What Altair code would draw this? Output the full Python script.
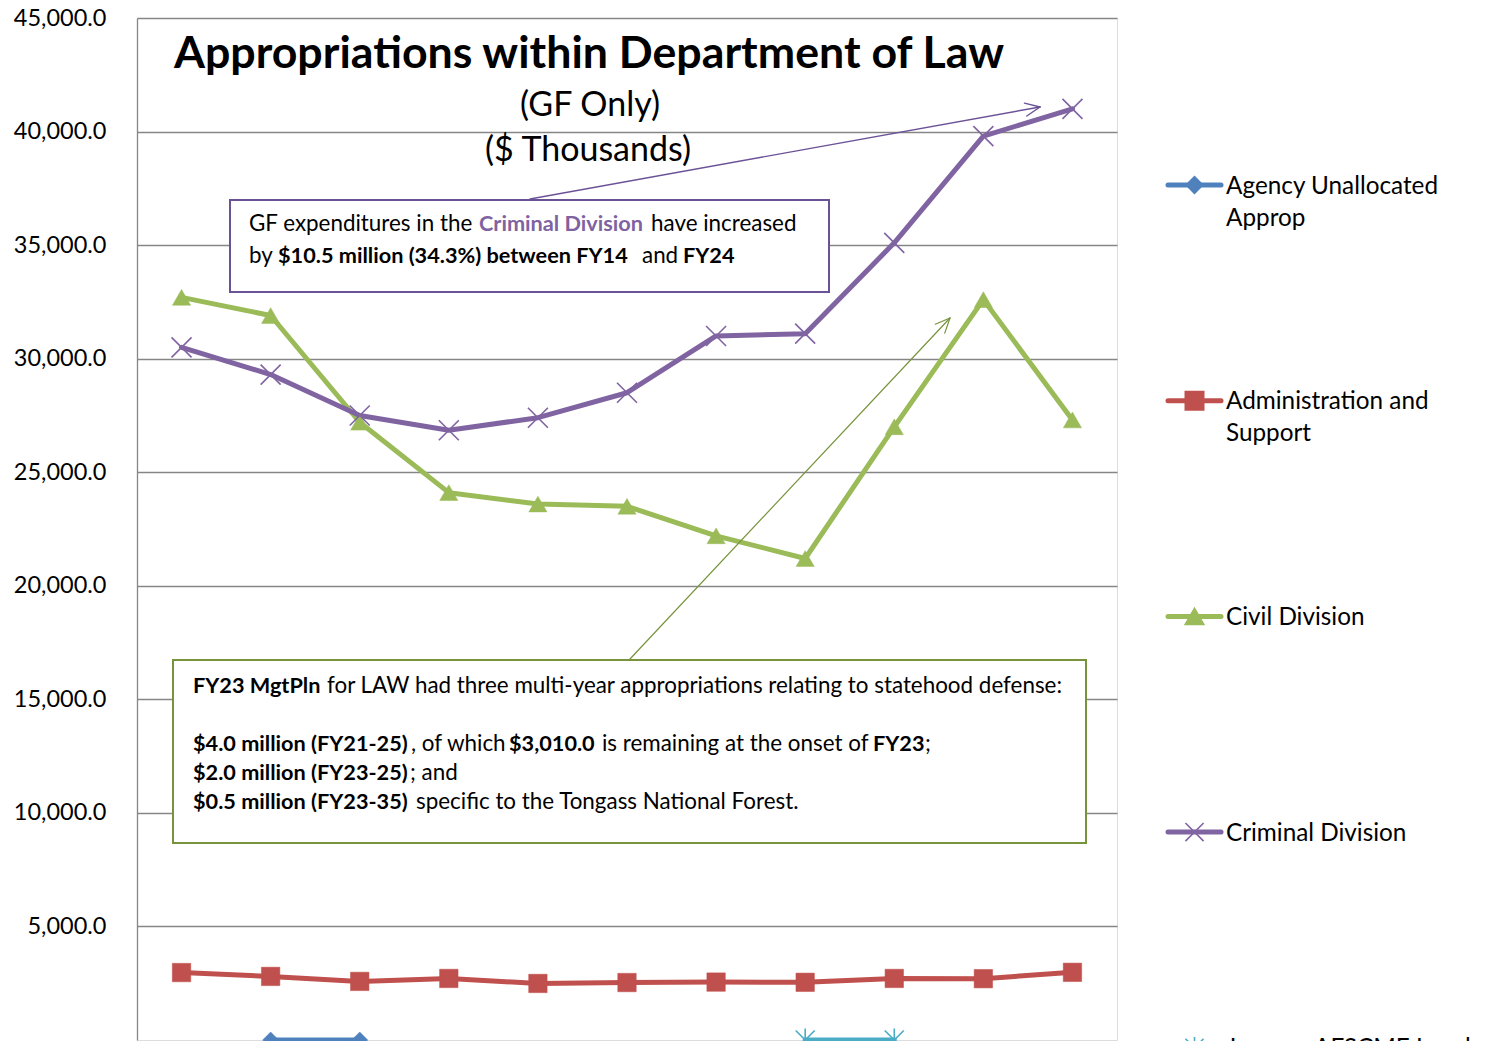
import altair as alt
import pandas as pd
import numpy as np

# ---------------- data ----------------
years = ["FY14", "FY15", "FY16", "FY17", "FY18", "FY19", "FY20", "FY21", "FY22", "FY23", "FY24"]
agency_unallocated = [None, 0.0, 0.0, None, None, None, None, None, None, None, None]
admin_support = [2970, 2800, 2580, 2710, 2490, 2530, 2550, 2540, 2710, 2700, 2980]
civil_division = [32700, 31900, 27200, 24100, 23600, 23500, 22200, 21200, 27000, 32600, 27300]
criminal_division = [30500, 29300, 27500, 26850, 27400, 28500, 31000, 31100, 35100, 39800, 41000]
janus_afscme = [None, None, None, None, None, None, None, 0.0, 0.0, None, None]

series_names = ["Agency Unallocated Approp", "Administration and Support",
                "Civil Division", "Criminal Division", "Janus v. AFSCME Local"]
legend_labels = ["Agency Unallocated\nApprop", "Administration and\nSupport",
                 "Civil Division", "Criminal Division", "Janus v. AFSCME Local"]
series_values = [agency_unallocated, admin_support, civil_division, criminal_division, janus_afscme]
colors = ["#4F81BD", "#C0504D", "#9BBB59", "#8064A2", "#4BACC6"]

X_PATH = "M-1,-1L1,1M1,-1L-1,1"
STAR_PATH = "M-1,-1L1,1M1,-1L-1,1M0,-1.2L0,1.2"
shapes = ["diamond", "square", "triangle-up", X_PATH, STAR_PATH]
sizes = [256, 340, 330, 400, 360]
filled = [True, True, True, False, False]

y_ticks = [5000, 10000, 15000, 20000, 25000, 30000, 35000, 40000, 45000]

title_text = "Appropriations within Department of Law"
subtitle1 = "(GF Only)"
subtitle2 = "($ Thousands)"

# annotation 1 segments (text, bold, color)
note1 = [
    ["GF expenditures in the", False, "#000000"],
    ["Criminal Division", True, "#7F62A1"],
    ["have increased", False, "#000000"],
    ["by", False, "#000000"],
    ["$10.5 million (34.3%) between FY14", True, "#000000"],
    ["and", False, "#000000"],
    ["FY24", True, "#000000"],
]
note2 = [
    ["FY23 MgtPln", True],
    ["for LAW had three multi-year appropriations relating to statehood defense:", False],
    ["$4.0 million (FY21-25)", True],
    [", of which", False],
    ["$3,010.0", True],
    ["is remaining at the onset of", False],
    ["FY23", True],
    [";", False],
    ["$2.0 million (FY23-25)", True],
    ["; and", False],
    ["$0.5 million (FY23-35)", True],
    ["specific to the Tongass National Forest.", False],
]

FONT = "Lato"
W, H = 980, 1022

rows = []
for name, vals in zip(series_names, series_values):
    for yr, v in zip(years, vals):
        if v is not None:
            rows.append({"year": yr, "value": v, "series": name})
df = pd.DataFrame(rows)

xenc = alt.X("year:N", sort=years, scale=alt.Scale(type="point", padding=0.5), axis=None)
yenc = alt.Y("value:Q", scale=alt.Scale(domain=[0, 45000], nice=False, zero=True),
             axis=alt.Axis(values=y_ticks, format=",.1f", labelFont=FONT, labelFontSize=23.5,
                           labelColor="#000000", labelPadding=31, tickSize=0,
                           domainColor="#868686", domainWidth=1.3, gridColor="#868686",
                           gridWidth=1.3, grid=True, title=None))
cenc = alt.Color("series:N", scale=alt.Scale(domain=series_names, range=colors), legend=None)

base = alt.Chart(df)
lines = base.mark_line(strokeWidth=5, strokeJoin="round", strokeCap="round").encode(
    x=xenc, y=yenc, color=cenc, detail="series:N")

point_layers = []
for name, shp, sz, fl, col in zip(series_names, shapes, sizes, filled, colors):
    if fl:
        mk = base.mark_point(shape=shp, size=sz, filled=True, fill=col, stroke=col,
                             strokeWidth=0.5, opacity=1)
    else:
        mk = base.mark_point(shape=shp, size=sz, filled=False, stroke=col,
                             strokeWidth=1.6, opacity=1)
    point_layers.append(mk.encode(x=xenc, y=yenc).transform_filter(
        alt.datum.series == name))

one = pd.DataFrame({"a": [0]})


def txt(text, x, y, size, weight="normal", align="center", color="#000000", baseline="alphabetic"):
    return alt.Chart(one).mark_text(text=text, font=FONT, fontSize=size, fontWeight=weight,
                                    align=align, baseline=baseline, color=color).encode(
        x=alt.value(x), y=alt.value(y))


titles = [
    txt(title_text, 452, 50, 44.7, "bold"),
    txt(subtitle1, 453, 98, 34),
    txt(subtitle2, 451, 143, 34),
]


def box(x1, x2, y1, y2, col):
    return alt.Chart(one).mark_rect(fill="white", stroke=col, strokeWidth=2).encode(
        x=alt.value(x1), x2=alt.value(x2), y=alt.value(y1), y2=alt.value(y2))


def rule(x0, y0, x1, y1, col, w):
    return alt.Chart(one).mark_rule(stroke=col, strokeWidth=w, strokeCap="round").encode(
        x=alt.value(float(x0)), y=alt.value(float(y0)), x2=alt.value(float(x1)), y2=alt.value(float(y1)))


def arrow(x0, y0, x1, y1, col, w=1.4, head=16, ang=24):
    d = np.array([x1 - x0, y1 - y0], dtype=float)
    d /= np.linalg.norm(d)
    out = [rule(x0, y0, x1, y1, col, w)]
    for s in (1, -1):
        a = np.deg2rad(ang * s)
        r = np.array([d[0] * np.cos(a) - d[1] * np.sin(a), d[0] * np.sin(a) + d[1] * np.cos(a)])
        out.append(rule(x1, y1, x1 - head * r[0], y1 - head * r[1], col, w))
    return out


ann = []
ann += arrow(393, 181, 903, 89, "#6B5296")
ann.append(box(93, 692, 182, 274, "#6B5296"))
ann += arrow(493, 641, 813, 300, "#77933C", w=1.2)
ann.append(box(36, 949, 642, 825, "#77933C"))

NS_REG, NS_BOLD = 22.4, 21.7
n1_pos = [(112, 206), (342, 206), (514, 206), (112, 238), (141, 238), (505, 238), (546, 238)]
for (t, b, c), (px, py) in zip(note1, n1_pos):
    ann.append(txt(t, px, py, NS_BOLD if b else NS_REG, "bold" if b else "normal",
                   align="left", color=c, baseline="middle"))
n2_pos = [(56, 668), (190, 668), (56, 726), (274, 726), (372, 726), (465, 726), (736, 726), (788, 726),
          (56, 755), (273, 755), (56, 784), (279, 784)]
for (t, b), (px, py) in zip(note2, n2_pos):
    ann.append(txt(t, px, py, NS_BOLD if b else NS_REG, "bold" if b else "normal",
                   align="left", baseline="middle"))

# ----- custom legend -----
leg = []
for i, (lab, shp, col, fl) in enumerate(zip(legend_labels, shapes, colors, filled)):
    cy = 167 + 215.7 * i
    leg.append(rule(1031, cy, 1084, cy, col, 5))
    if fl:
        mk = alt.Chart(one).mark_point(shape=shp, size=[256, 324, 320][i], filled=True, fill=col,
                                       stroke=col, opacity=1)
    else:
        mk = alt.Chart(one).mark_point(shape=shp, size=330, filled=False, stroke=col,
                                       strokeWidth=1.6, opacity=1)
    leg.append(mk.encode(x=alt.value(1057.5), y=alt.value(cy)))
    leg.append(alt.Chart(one).mark_text(text=lab, font=FONT, fontSize=24.3, align="left",
                                        baseline="alphabetic", lineBreak="\n", lineHeight=32,
                                        color="#000000").encode(
        x=alt.value(1089), y=alt.value(cy + 8.5)))

chart = alt.layer(lines, *point_layers, *titles, *ann, *leg).properties(
    width=W, height=H,
    autosize=alt.AutoSizeParams(type="none"),
    padding={"left": 129, "top": 10, "right": 376, "bottom": 1},
).configure_view(stroke=None).configure(background="white")

chart.save("out.html", embed_options={"renderer": "svg", "actions": False})
